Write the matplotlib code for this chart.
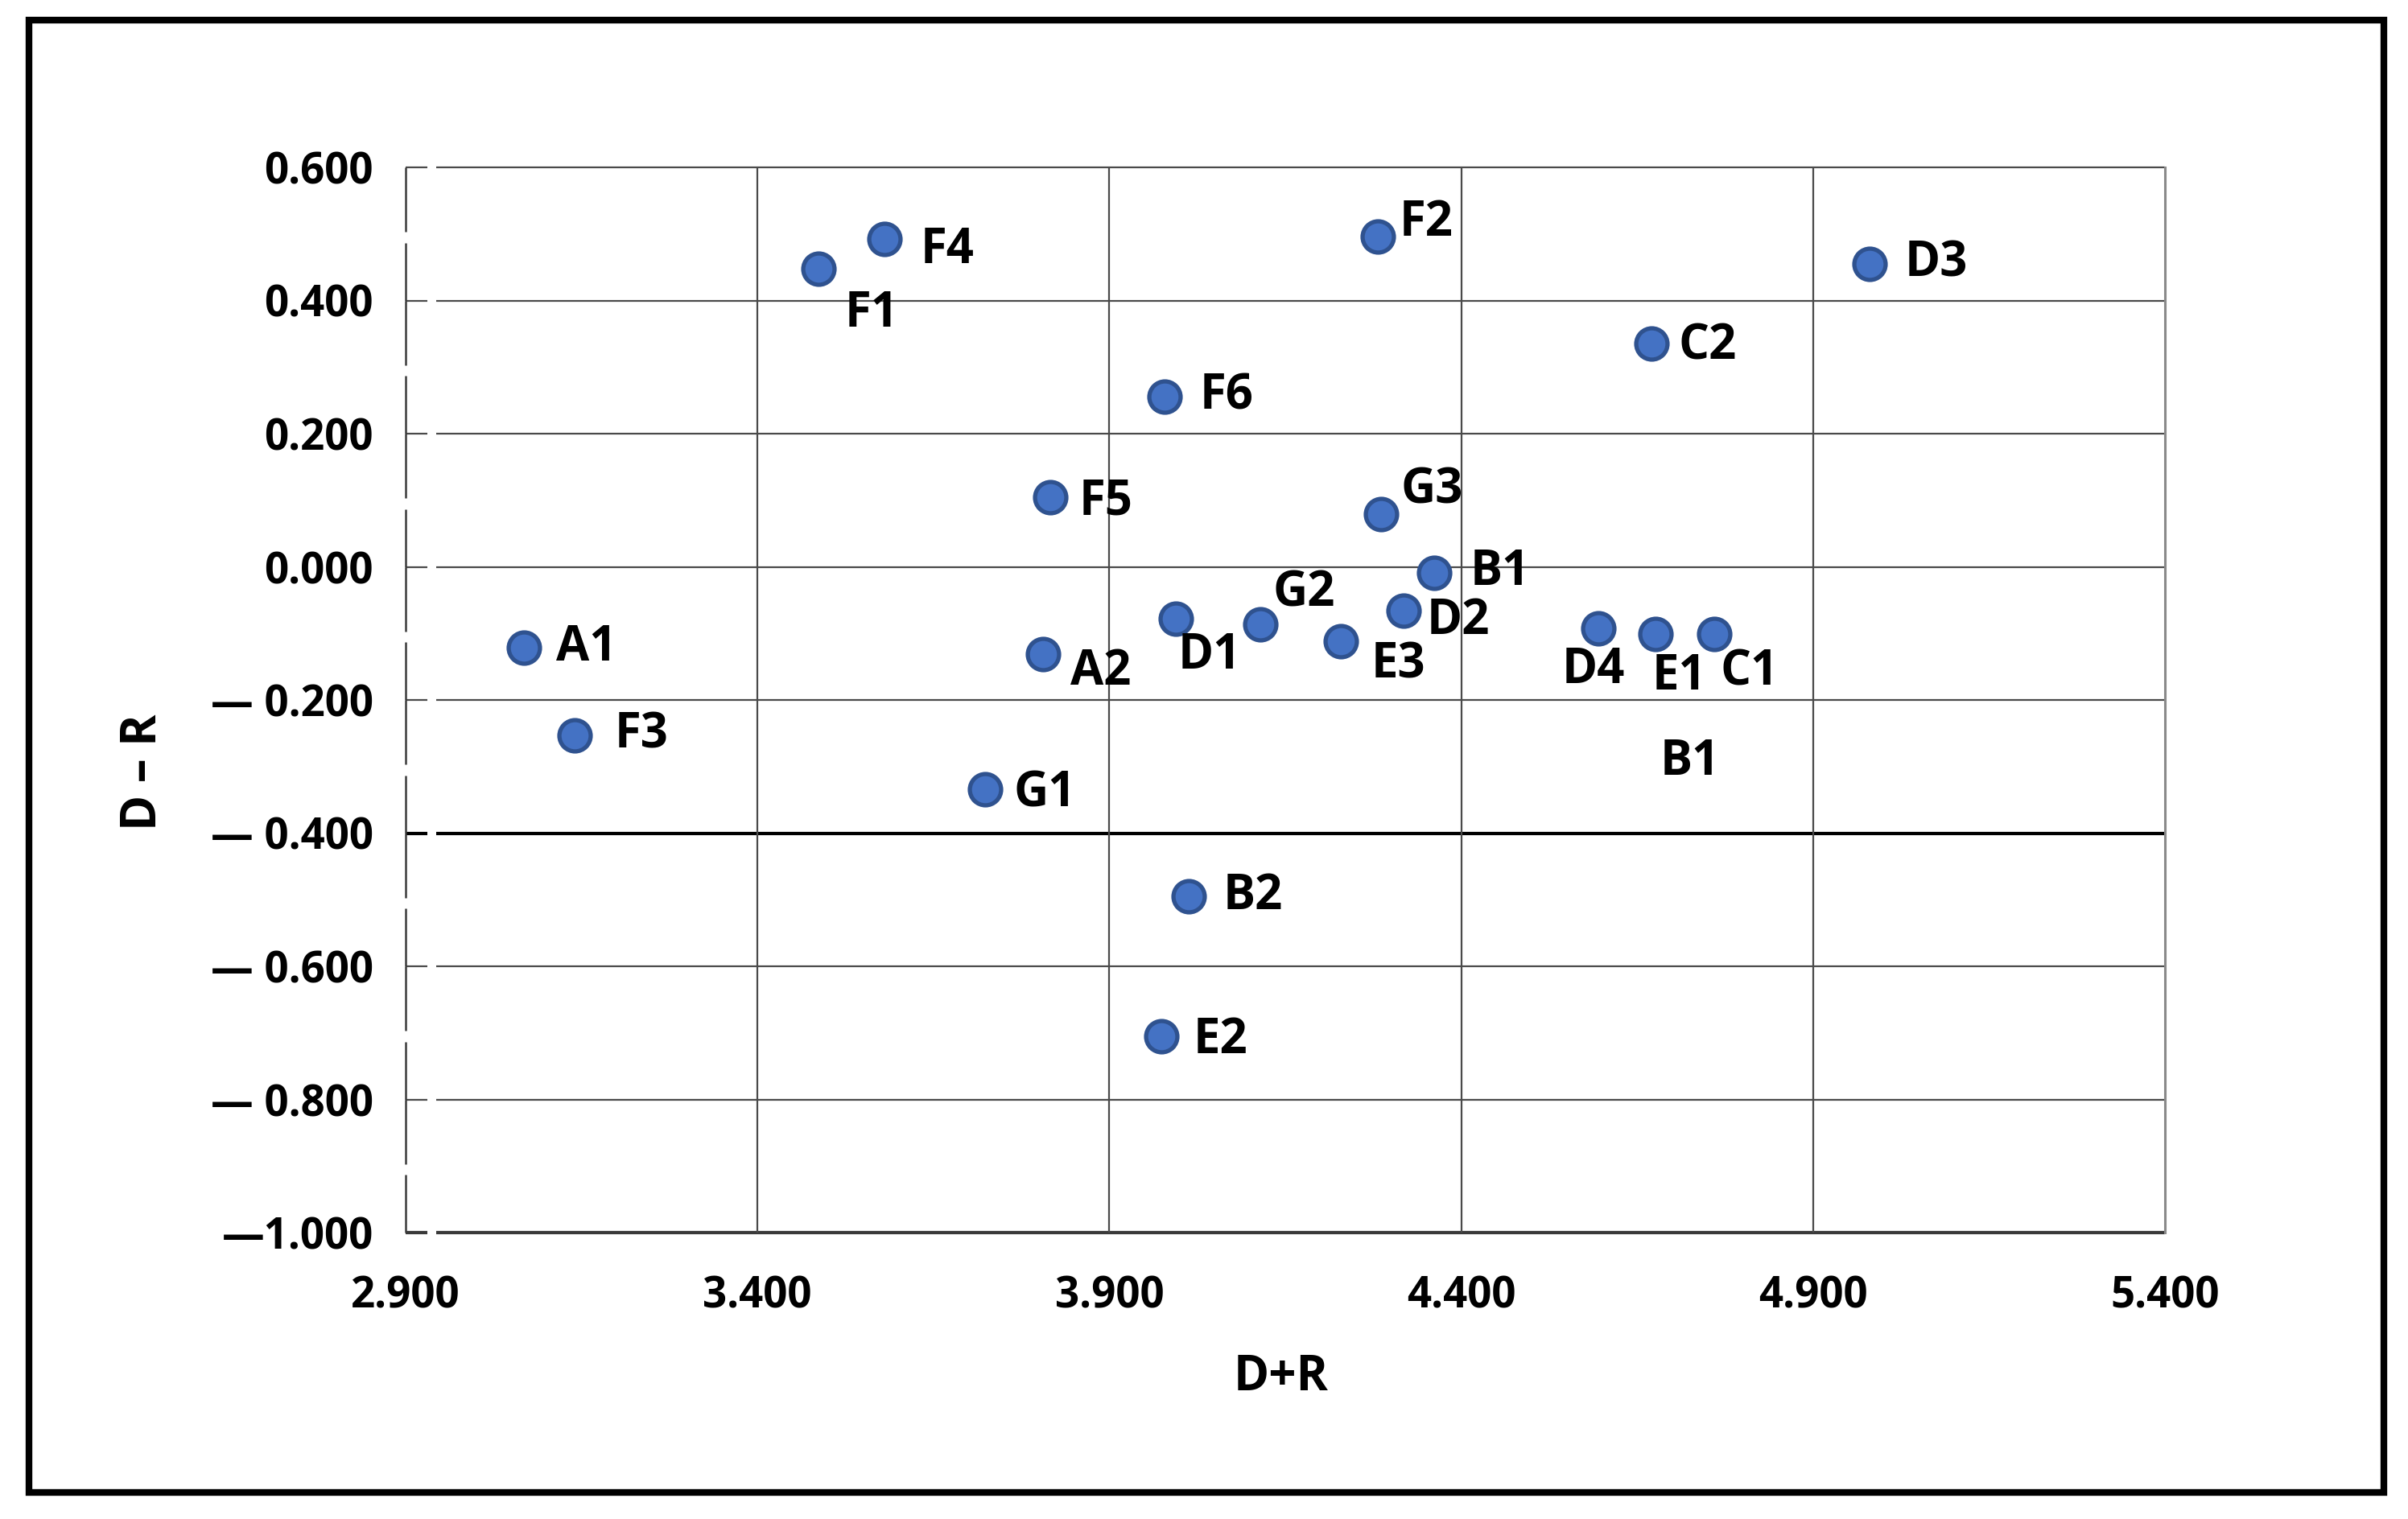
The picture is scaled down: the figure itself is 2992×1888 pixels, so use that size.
import matplotlib.pyplot as plt
from matplotlib.patches import Rectangle

# factor codes and their coordinates (D+R, D-R)
names = ['A1', 'F3', 'F1', 'F4', 'F5', 'A2', 'G1', 'F6', 'D1', 'B2', 'E2',
         'G2', 'E3', 'G3', 'F2', 'D2', 'B1', 'D4', 'E1', 'C1', 'C2', 'D3']
d_plus_r = [3.068, 3.140, 3.487, 3.580, 3.816, 3.806, 3.723, 3.978, 3.995, 4.013, 3.974,
            4.115, 4.229, 4.286, 4.281, 4.318, 4.362, 4.595, 4.676, 4.759, 4.670, 4.980]
d_minus_r = [-0.122, -0.253, 0.448, 0.492, 0.104, -0.131, -0.334, 0.256, -0.078, -0.495, -0.705,
             -0.087, -0.112, 0.079, 0.496, -0.066, -0.009, -0.092, -0.101, -0.101, 0.335, 0.455]

x_ticks = [2.9, 3.4, 3.9, 4.4, 4.9, 5.4]
x_tick_labels = ['2.900', '3.400', '3.900', '4.400', '4.900', '5.400']
y_ticks = [0.6, 0.4, 0.2, 0.0, -0.2, -0.4, -0.6, -0.8, -1.0]
y_tick_labels = ['0.600', '0.400', '0.200', '0.000', '\u2014 0.200', '\u2014 0.400',
                 '\u2014 0.600', '\u2014 0.800', '\u20141.000']

# a loose label in the chart that has no marker
loose_label = 'B1'
loose_x = 4.725
loose_y = -0.294

# label offsets in pixels (dx, dy, horizontal alignment)
offsets = {
    'A1': (40, 0, 'left'), 'F3': (50, 0, 'left'), 'F1': (32, -57, 'left'),
    'F4': (45, -14, 'left'), 'F5': (36, -6, 'left'), 'A2': (34, -23, 'left'),
    'G1': (36, -6, 'left'), 'F6': (44, 0, 'left'), 'D1': (2, -46, 'left'),
    'B2': (42, 0, 'left'), 'E2': (40, -6, 'left'), 'G2': (15, 38, 'left'),
    'E3': (38, -30, 'left'), 'G3': (25, 29, 'left'), 'F2': (27, 17, 'left'),
    'D2': (29, -13, 'left'), 'B1': (44, 0, 'left'), 'D4': (-6, -53, 'center'),
    'E1': (29, -53, 'center'), 'C1': (8, -48, 'left'), 'C2': (34, -4, 'left'),
    'D3': (44, 0, 'left'),
}

plt.rcParams['font.family'] = ['Open Sans', 'DejaVu Sans']
plt.rcParams['font.weight'] = 'bold'

W, H = 2992, 1888
fig = plt.figure(figsize=(W / 100, H / 100), dpi=100)
ax = fig.add_axes([504 / W, 1 - 1532 / H, (2690 - 504) / W, (1532 - 208) / H])
ax.set_xlim(2.9, 5.4)
ax.set_ylim(-1.0, 0.6)
for s in ax.spines.values():
    s.set_visible(False)

# horizontal grid, with the little break next to the left axis
g0, g1 = 2.9 + 0.031, 2.9 + 0.0435
for v in y_ticks:
    if v == -0.4:
        c, lw = 'black', 3.0
    elif v == -1.0:
        c, lw = '#3a3a3a', 3.0
    else:
        c, lw = '#4a4a4a', 1.6
    ax.hlines(v, 2.9, g0, color=c, lw=lw, clip_on=False, zorder=1)
    ax.hlines(v, g1, 5.4, color=c, lw=lw, clip_on=False, zorder=1)

# vertical grid
for v in x_ticks[1:-1]:
    ax.axvline(v, color='#4a4a4a', lw=1.6, zorder=1)
ax.axvline(5.4, color='#8a8a8a', lw=2.2, zorder=1, clip_on=False)

# broken left axis line
for top, bot in zip(y_ticks[:-1], y_ticks[1:]):
    mid = top - 0.105
    ax.vlines(2.9, mid + 0.008, top, color='#3a3a3a', lw=1.8, clip_on=False)
    ax.vlines(2.9, bot, mid - 0.008, color='#3a3a3a', lw=1.8, clip_on=False)

ax.set_xticks(x_ticks, x_tick_labels)
ax.set_yticks(y_ticks, y_tick_labels)
ax.tick_params(axis='x', length=0, pad=38, labelsize=38)
ax.tick_params(axis='y', length=0, pad=29, labelsize=38)

ax.plot(d_plus_r, d_minus_r, 'o', ms=28, mfc='#4472C4', mec='#2F528F', mew=3.8,
        zorder=3, clip_on=False)

for n, x, y in zip(names, d_plus_r, d_minus_r):
    dx, dy, ha = offsets[n]
    ax.annotate(n, (x, y), xytext=(dx, dy), textcoords='offset pixels',
                ha=ha, va='center', fontsize=43, fontweight='bold', zorder=4)

ax.text(loose_x, loose_y, loose_label, ha='center', va='center',
        fontsize=43, fontweight='bold')

fig.text(1592 / W, 1 - 1712 / H, 'D+R', ha='center', va='center',
         fontsize=43, fontweight='bold')
fig.text(178 / W, 1 - 960 / H, 'D \u2013 R', ha='center', va='center',
         rotation=90, fontsize=43, fontweight='bold')

# outer frame
fig.patches.append(Rectangle((36 / W, 1 - 1855 / H), (2962 - 36) / W, (1855 - 25) / H,
                             fill=False, lw=6, edgecolor='black',
                             transform=fig.transFigure))

fig.savefig('out.png', dpi=100)
